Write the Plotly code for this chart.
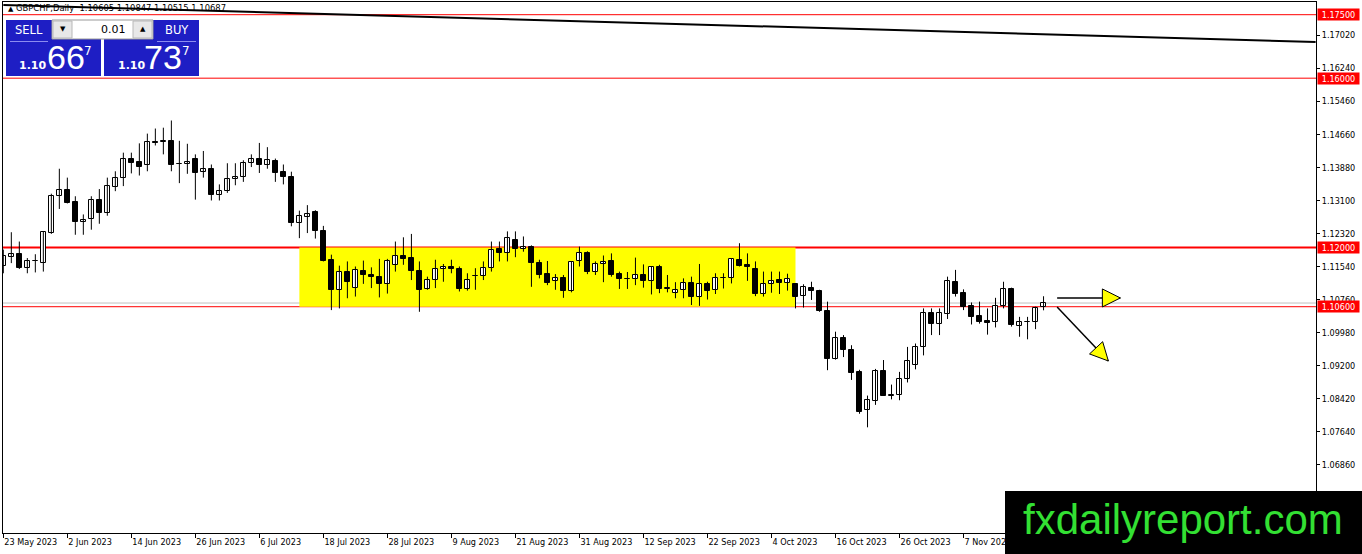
import plotly.graph_objects as go
import pandas as pd

# GBPCHF daily bars, 23 May 2023 .. 21 Nov 2023
dates = pd.bdate_range("2023-05-23", periods=131)

opens = [1.1157, 1.1178, 1.1184, 1.1151, 1.1167, 1.1163, 1.1234, 1.1321, 1.1335, 1.1307,
         1.1260, 1.1268, 1.1311, 1.1281, 1.1343, 1.1363, 1.1408, 1.1402, 1.1394, 1.1450,
         1.1450, 1.1452, 1.1398, 1.1398, 1.1410, 1.1378, 1.1385, 1.1325, 1.1333, 1.1361,
         1.1366, 1.1399, 1.1410, 1.1396, 1.1404, 1.1378, 1.1366, 1.1258, 1.1273, 1.1283,
         1.1240, 1.1171, 1.1100, 1.1141, 1.1104, 1.1145, 1.1135, 1.1131, 1.1114, 1.1159,
         1.1181, 1.1175, 1.1145, 1.1102, 1.1123, 1.1149, 1.1155, 1.1150, 1.1103, 1.1133,
         1.1133, 1.1151, 1.1196, 1.1186, 1.1218, 1.1197, 1.1202, 1.1164, 1.1137, 1.1121,
         1.1129, 1.1096, 1.1167, 1.1186, 1.1141, 1.1160, 1.1168, 1.1137, 1.1126, 1.1126,
         1.1135, 1.1121, 1.1153, 1.1103, 1.1093, 1.1100, 1.1117, 1.1082, 1.1114, 1.1100,
         1.1127, 1.1127, 1.1171, 1.1159, 1.1150, 1.1090, 1.1114, 1.1122, 1.1115, 1.1114,
         1.1085, 1.1105, 1.1098, 1.1050, 1.0937, 1.0986, 1.0957, 1.0906, 1.0815, 1.0838,
         1.0908, 1.0850, 1.0852, 1.0890, 1.0922, 1.0965, 1.1046, 1.1018, 1.1043, 1.1118,
         1.1093, 1.1062, 1.1039, 1.1027, 1.1023, 1.1062, 1.1102, 1.1014, 1.1023, 1.1023,
         1.10605]
highs = [1.1195, 1.1236, 1.1214, 1.1175, 1.1184, 1.1238, 1.1327, 1.1386, 1.1365, 1.1321,
         1.1278, 1.1321, 1.1338, 1.1365, 1.1380, 1.1424, 1.1424, 1.1446, 1.1469, 1.1481,
         1.1483, 1.1500, 1.1452, 1.1445, 1.1420, 1.1428, 1.1396, 1.1349, 1.1399, 1.1399,
         1.1406, 1.1420, 1.1447, 1.1437, 1.1410, 1.1396, 1.1379, 1.1287, 1.1300, 1.1288,
         1.1251, 1.1183, 1.1157, 1.1167, 1.1155, 1.1169, 1.1153, 1.1173, 1.1173, 1.1214,
         1.1224, 1.1232, 1.1167, 1.1131, 1.1171, 1.1161, 1.1171, 1.1155, 1.1139, 1.1151,
         1.1167, 1.1214, 1.1214, 1.1238, 1.1238, 1.1226, 1.1205, 1.1171, 1.1168, 1.1137,
         1.1135, 1.1168, 1.1202, 1.1191, 1.1167, 1.1181, 1.1186, 1.1143, 1.1142, 1.1176,
         1.1160, 1.1155, 1.1159, 1.1135, 1.1118, 1.1127, 1.1131, 1.1161, 1.1119, 1.1139,
         1.1139, 1.1175, 1.1210, 1.1186, 1.1167, 1.1143, 1.1143, 1.1143, 1.1138, 1.1115,
         1.1113, 1.1119, 1.1100, 1.1072, 1.1001, 1.0993, 1.0969, 1.0911, 1.0850, 1.0913,
         1.0934, 1.0876, 1.0906, 1.0965, 1.0973, 1.1056, 1.1056, 1.1056, 1.1131, 1.1147,
         1.1101, 1.1070, 1.1072, 1.1056, 1.1081, 1.1119, 1.1105, 1.1036, 1.1036, 1.1060,
         1.10847]
lows = [1.1139, 1.1163, 1.1149, 1.1139, 1.1141, 1.1143, 1.1232, 1.1291, 1.1304, 1.1230,
        1.1230, 1.1242, 1.1256, 1.1275, 1.1333, 1.1345, 1.1375, 1.1370, 1.1380, 1.1441,
        1.1420, 1.1380, 1.1352, 1.1374, 1.1313, 1.1365, 1.1311, 1.1311, 1.1329, 1.1347,
        1.1355, 1.1390, 1.1376, 1.1386, 1.1355, 1.1349, 1.1250, 1.1222, 1.1234, 1.1221,
        1.1167, 1.1052, 1.1056, 1.1080, 1.1084, 1.1114, 1.1104, 1.1082, 1.1091, 1.1143,
        1.1159, 1.1123, 1.1048, 1.1100, 1.1104, 1.1119, 1.1139, 1.1096, 1.1098, 1.1100,
        1.1123, 1.1143, 1.1167, 1.1167, 1.1177, 1.1190, 1.1107, 1.1127, 1.1111, 1.1100,
        1.1081, 1.1094, 1.1155, 1.1137, 1.1135, 1.1118, 1.1131, 1.1102, 1.1102, 1.1111,
        1.1105, 1.1089, 1.1092, 1.1094, 1.1080, 1.1080, 1.1064, 1.1062, 1.1077, 1.1090,
        1.1103, 1.1115, 1.1155, 1.1121, 1.1085, 1.1084, 1.1093, 1.1090, 1.1098, 1.1056,
        1.1058, 1.1076, 1.1048, 1.0910, 1.0935, 1.0941, 1.0887, 1.0807, 1.0775, 1.0828,
        1.0849, 1.0841, 1.0839, 1.0881, 1.0912, 1.0945, 1.0993, 1.0993, 1.1031, 1.1084,
        1.1052, 1.1018, 1.1020, 1.0994, 1.1011, 1.1056, 1.1013, 1.0989, 1.0983, 1.1007,
        1.10515]
closes = [1.1179, 1.1184, 1.1151, 1.1168, 1.1168, 1.1236, 1.1321, 1.1335, 1.1305, 1.1259,
          1.1266, 1.1311, 1.1281, 1.1346, 1.1364, 1.1408, 1.1400, 1.1391, 1.1449, 1.1447,
          1.1451, 1.1396, 1.1397, 1.1403, 1.1376, 1.1385, 1.1325, 1.1334, 1.1361, 1.1366,
          1.1399, 1.1410, 1.1396, 1.1406, 1.1376, 1.1366, 1.1258, 1.1274, 1.1279, 1.1238,
          1.1169, 1.1100, 1.1143, 1.1119, 1.1147, 1.1134, 1.1130, 1.1114, 1.1168, 1.1180,
          1.1173, 1.1145, 1.1100, 1.1122, 1.1149, 1.1155, 1.1149, 1.1103, 1.1122, 1.1133,
          1.1151, 1.1194, 1.1186, 1.1222, 1.1196, 1.1202, 1.1163, 1.1134, 1.1117, 1.1127,
          1.1096, 1.1165, 1.1186, 1.1141, 1.1161, 1.1166, 1.1135, 1.1126, 1.1126, 1.1135,
          1.1121, 1.1153, 1.1103, 1.1104, 1.1100, 1.1117, 1.1084, 1.1113, 1.1097, 1.1127,
          1.1128, 1.1172, 1.1157, 1.1155, 1.1090, 1.1114, 1.1121, 1.1115, 1.1125, 1.1084,
          1.1107, 1.1096, 1.1051, 1.0937, 1.0986, 1.0957, 1.0903, 1.0811, 1.0840, 1.0907,
          1.0849, 1.0851, 1.0890, 1.0931, 1.0965, 1.1046, 1.1018, 1.1044, 1.1121, 1.1090,
          1.1060, 1.1036, 1.1024, 1.1021, 1.1062, 1.1102, 1.1017, 1.1024, 1.1023, 1.1056,
          1.10687]

# horizontal levels drawn on the chart
levels = [1.17500, 1.16000, 1.12000, 1.10600]
level_widths = [1, 1, 2, 1]

# right axis ticks
y_ticks = [1.06860, 1.07640, 1.08420, 1.09200, 1.09980, 1.10760, 1.11540,
           1.12320, 1.13100, 1.13880, 1.14660, 1.15460, 1.16240, 1.17020]

# x axis labels, one every 8 bars
x_tick_bars = [0, 8, 16, 24, 32, 40, 48, 56, 64, 72, 80, 88, 96, 104, 112, 120]
x_tick_labels = ["23 May 2023", "2 Jun 2023", "14 Jun 2023", "26 Jun 2023", "6 Jul 2023",
                 "18 Jul 2023", "28 Jul 2023", "9 Aug 2023", "21 Aug 2023", "31 Aug 2023",
                 "12 Sep 2023", "22 Sep 2023", "4 Oct 2023", "16 Oct 2023", "26 Oct 2023",
                 "7 Nov 2023"]

# yellow range box (bar index / price)
zone_bars = [37, 99]
zone_prices = [1.10600, 1.12000]

# black trend line (bar index / price)
trend_bars = [0, 164]
trend_prices = [1.1773, 1.16856]

# yellow arrows: start and tip (bar index / price)
arrow_start_bars = [131.7, 131.7]
arrow_start_prices = [1.10807, 1.10594]
arrow_tip_bars = [139.6, 138.1]
arrow_tip_prices = [1.10807, 1.09318]
arrow_angles = [0, 47]

n = len(closes)
idx = list(range(n))

# plot area in pixels: x 3..1316, y 2..533
def px(x):
    return (x - 3) / 1313


def py(y):
    return (533 - y) / 531


wick_x, wick_y = [], []
for i in idx:
    wick_x += [i, i, None]
    wick_y += [lows[i], highs[i], None]

body_base = [min(o, c) for o, c in zip(opens, closes)]
body_h = [max(abs(c - o), 0.00002) for o, c in zip(opens, closes)]
body_col = ["white" if c > o else "black" for o, c in zip(opens, closes)]

fig = go.Figure()
fig.add_trace(go.Scatter(x=wick_x, y=wick_y, mode="lines",
                         line=dict(color="black", width=1), hoverinfo="skip"))
fig.add_trace(go.Bar(x=idx, base=body_base, y=body_h, width=0.55,
                     marker=dict(color=body_col, line=dict(color="black", width=1)),
                     hoverinfo="skip"))
fig.add_trace(go.Scatter(x=arrow_tip_bars, y=arrow_tip_prices, mode="markers",
                         marker=dict(symbol="arrow-right", size=18, angle=arrow_angles,
                                     color="#FFFF00", line=dict(color="black", width=1)),
                         hoverinfo="skip"))

shapes = []
shapes.append(dict(type="rect", xref="x", yref="y", x0=zone_bars[0], x1=zone_bars[1],
                   y0=zone_prices[0], y1=zone_prices[1], fillcolor="#FFFF00",
                   line=dict(width=0), layer="below"))
# bid line
shapes.append(dict(type="line", xref="paper", yref="y", x0=0, x1=1,
                   y0=closes[-1], y1=closes[-1], line=dict(color="#C0C0C0", width=1),
                   layer="below"))
for lv, w in zip(levels, level_widths):
    shapes.append(dict(type="line", xref="paper", yref="y", x0=0, x1=1, y0=lv, y1=lv,
                       line=dict(color="#FF0000", width=w), layer="below"))
shapes.append(dict(type="line", xref="x", yref="y", x0=trend_bars[0], x1=trend_bars[1],
                   y0=trend_prices[0], y1=trend_prices[1],
                   line=dict(color="black", width=2), layer="below"))
for i in range(2):
    shapes.append(dict(type="line", xref="x", yref="y",
                       x0=arrow_start_bars[i], x1=arrow_tip_bars[i],
                       y0=arrow_start_prices[i], y1=arrow_tip_prices[i],
                       line=dict(color="black", width=1.5), layer="below"))

# one-click trading panel
blue = "#1E1EC4"
for x0, x1 in [(6, 101), (104, 199)]:
    shapes.append(dict(type="rect", xref="paper", yref="paper", x0=px(x0), x1=px(x1),
                       y0=py(76), y1=py(20), fillcolor=blue, line=dict(width=0),
                       layer="above"))
shapes.append(dict(type="rect", xref="paper", yref="paper", x0=px(52), x1=px(153),
                   y0=py(39), y1=py(20), fillcolor="white",
                   line=dict(color="#9A9A9A", width=1), layer="above"))
for x0, x1 in [(53, 72), (133, 152)]:
    shapes.append(dict(type="rect", xref="paper", yref="paper", x0=px(x0), x1=px(x1),
                       y0=py(38), y1=py(21), fillcolor="#E8E8E8",
                       line=dict(color="#B8B8B8", width=1), layer="above"))
for x0, x1 in [(10, 48), (157, 196)]:
    shapes.append(dict(type="line", xref="paper", yref="paper", x0=px(x0), x1=px(x1),
                       y0=py(41.5), y1=py(41.5), line=dict(color="#8C8CF0", width=1),
                       layer="above"))
# watermark box
shapes.append(dict(type="rect", xref="paper", yref="paper", x0=px(1005), x1=px(1362),
                   y0=py(554), y1=py(491), fillcolor="black", line=dict(width=0),
                   layer="above"))

ui = "DejaVu Sans"
axis_font = "DejaVu Sans Condensed, DejaVu Sans"
annotations = []


def label(text, x, y, size, color="white", family=ui, anchor="center"):
    annotations.append(dict(text=text, xref="paper", yref="paper", x=px(x), y=py(y),
                            xanchor=anchor, yanchor="middle", showarrow=False,
                            font=dict(family=family, size=size, color=color)))


big = "Liberation Sans Narrow, Liberation Sans"
label("SELL", 28.5, 30, 11.5)
label("BUY", 176.5, 30, 11.5)
label("0.01", 128, 29.5, 11, color="black", anchor="right")
label("▼", 62.5, 29.5, 7, color="black")
label("▲", 142.5, 29.5, 7, color="black")
label("<b>1.10</b>", 32.5, 65, 11)
label("66", 65.5, 57, 34, family=big)
label("7", 87.5, 51, 12)
label("<b>1.10</b>", 131, 65, 11)
label("73", 162.5, 57, 34, family=big)
label("7", 186, 51, 12)
label("<span style='font-size:7px'>▲</span> GBPCHF,Daily  1.10605 1.10847 1.10515 1.10687",
      6, 8, 8.4, color="black", anchor="left")

for lv in levels:
    annotations.append(dict(text=f"{lv:.5f}", xref="paper", yref="y", x=1, y=lv,
                            xanchor="left", yanchor="middle", xshift=1, showarrow=False,
                            bgcolor="#FF0000", borderpad=1, width=39, height=9,
                            font=dict(family=axis_font, size=9, color="white")))

label("fxdailyreport.com", 1183, 519, 42, color="#33E033", family="Liberation Sans")

fig.update_layout(
    width=1362,
    height=554,
    margin=dict(l=3, r=46, t=2, b=21),
    paper_bgcolor="white",
    plot_bgcolor="white",
    showlegend=False,
    bargap=0,
    font=dict(family=ui, size=8, color="black"),
    shapes=shapes,
    annotations=annotations,
)
fig.update_xaxes(
    range=[-0.04, 164.05],
    showgrid=False,
    zeroline=False,
    showline=True,
    mirror=True,
    linecolor="black",
    linewidth=1,
    ticks="outside",
    ticklen=4,
    tickcolor="black",
    tickvals=x_tick_bars,
    ticktext=x_tick_labels,
    ticklabelposition="outside right",
    tickfont=dict(family=axis_font, size=9),
)
fig.update_yaxes(
    side="right",
    range=[1.05253, 1.17800],
    showgrid=False,
    zeroline=False,
    showline=True,
    mirror=True,
    linecolor="black",
    linewidth=1,
    ticks="outside",
    ticklen=3,
    tickcolor="black",
    tickvals=y_ticks,
    ticktext=[f"{v:.5f}" for v in y_ticks],
    tickfont=dict(family=axis_font, size=9),
)

fig.write_html("out.html", config={"displayModeBar": False},
               post_script="document.body.style.margin = '0';")
